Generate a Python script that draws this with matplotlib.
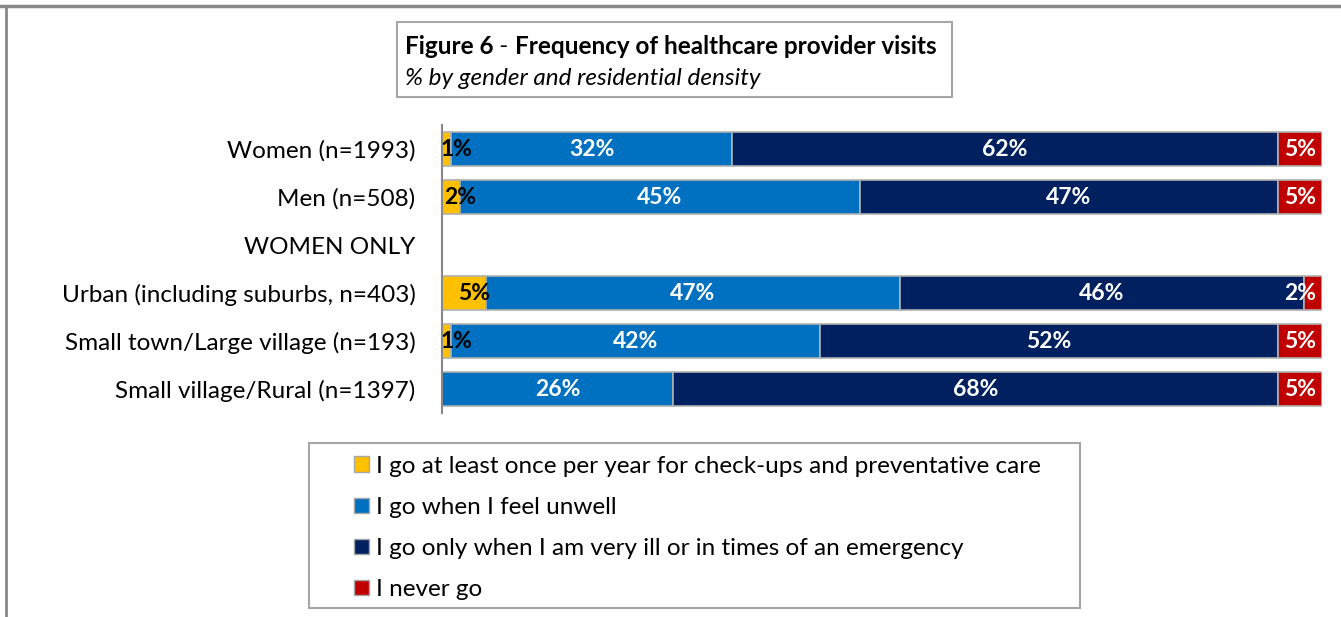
import numpy as np
import matplotlib
matplotlib.use('Agg')
import matplotlib.pyplot as plt
from matplotlib.patches import Rectangle, Patch
from matplotlib.lines import Line2D

plt.rcParams['font.family'] = ['Lato', 'DejaVu Sans']

# data (percent, rows are 100% stacked)
groups = ['Women (n=1993)', 'Men (n=508)', 'WOMEN ONLY',
          'Urban (including suburbs, n=403)', 'Small town/Large village (n=193)',
          'Small village/Rural (n=1397)']
checkups = [1, 2, np.nan, 5, 1, 0]
unwell = [32, 45, np.nan, 47, 42, 26]
very_ill = [62, 47, np.nan, 46, 52, 68]
never_go = [5, 5, np.nan, 2, 5, 5]

series_names = ['I go at least once per year for check-ups and preventative care',
                'I go when I feel unwell',
                'I go only when I am very ill or in times of an emergency',
                'I never go']
colors = ['#FFC000', '#0070C0', '#002060', '#C00000']
label_colors = ['black', 'white', 'white', 'white']

vals = np.array([checkups, unwell, very_ill, never_go], dtype=float)
totals = np.nansum(vals, axis=0)
totals[totals == 0] = 1
shares = np.nan_to_num(vals) / totals

fig = plt.figure(figsize=(13.41, 6.17), dpi=100)
ax = fig.add_axes([0.3296, 0.3306, 0.6562, 0.4668])

y = np.arange(len(groups))
left = np.zeros(len(groups))
for i in range(4):
    ax.barh(y, shares[i], left=left, height=0.69, color=colors[i],
            edgecolor='#b0b0b0', linewidth=1.2)
    for j in range(len(groups)):
        v = vals[i, j]
        if np.isnan(v) or v == 0:
            continue
        cx = left[j] + shares[i, j] / 2
        dx = 0
        ha = 'center'
        if i == 0:
            dx = 7
        if i == 3 and cx + 0.02 > 1:
            cx = 1.0
            ha = 'right'
            dx = -4
        ax.annotate('%d%%' % v, (cx, y[j]), xytext=(dx, 0),
                    textcoords='offset points', ha=ha, va='center',
                    color=label_colors[i], fontsize=16.5, fontweight='bold')
    left += shares[i]

ax.set_xlim(0, 1)
ax.set_ylim(len(groups) - 0.5, -0.5)
ax.set_yticks(y)
ax.set_yticklabels(groups, fontsize=17.5)
ax.tick_params(axis='y', length=0, pad=19)
ax.set_xticks([])
for s in ['top', 'right', 'bottom']:
    ax.spines[s].set_visible(False)
ax.spines['left'].set_color('#888888')
ax.spines['left'].set_linewidth(1.5)

# outer frame
fig.add_artist(Line2D([0, 1], [0.9903, 0.9903], color='#888888', lw=2.5,
                      transform=fig.transFigure))
fig.add_artist(Line2D([0.0045, 0.0045], [0, 0.9903], color='#888888', lw=2,
                      transform=fig.transFigure))

# title box
fig.add_artist(Rectangle((0.296, 0.8428), 0.4139, 0.1216, transform=fig.transFigure,
                         fill=False, edgecolor='#a6a6a6', lw=1.5))
t1 = fig.text(0.302, 0.9254, 'Figure 6', fontsize=17.5, fontweight='bold', va='center')
t2 = plt.annotate(' - ', xy=(1, 0.5), xycoords=t1, va='center', fontsize=17.5)
t3 = plt.annotate('Frequency of healthcare provider visits', xy=(1, 0.5), xycoords=t2,
                  va='center', fontsize=17.5, fontweight='bold')
fig.text(0.302, 0.8735, '% by gender and residential density', fontsize=17.5,
         style='italic', va='center')

# legend box
fig.add_artist(Rectangle((0.2304, 0.0146), 0.575, 0.2674, transform=fig.transFigure,
                         fill=False, edgecolor='#a6a6a6', lw=1.5))
handles = [Patch(facecolor=c, edgecolor='#a6a6a6', lw=1) for c in colors]
fig.legend(handles, series_names, loc='upper left', bbox_to_anchor=(0.248, 0.297),
           frameon=False, fontsize=17.5, handlelength=0.6, handleheight=0.6,
           handletextpad=0.3, labelspacing=0.83)

fig.savefig('out.png', dpi=100)
